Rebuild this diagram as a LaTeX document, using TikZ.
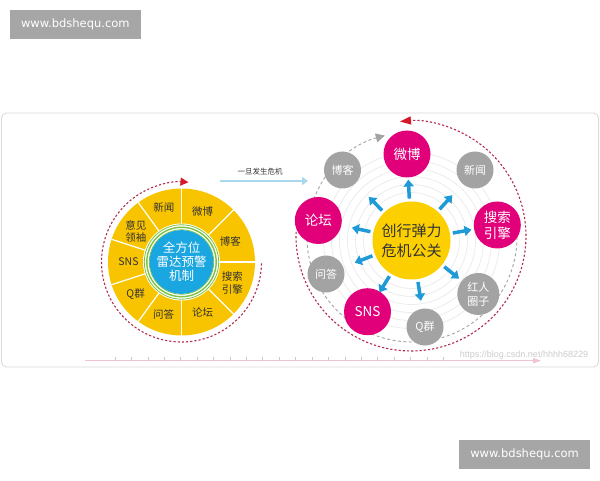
\documentclass[tikz,border=0pt]{standalone}
\usepackage{fontspec}
\setmainfont{Noto Sans CJK SC}
\newfontfamily\wmfont{DejaVu Sans}
\newfontfamily\lsfont{Liberation Sans}
\usetikzlibrary{arrows.meta,calc}
\definecolor{ylwL}{HTML}{F8C400}
\definecolor{ylwR}{HTML}{FCCF00}
\definecolor{grnC}{HTML}{7DC242}
\definecolor{bluC}{HTML}{1AA6E0}
\definecolor{magC}{HTML}{E2007A}
\definecolor{gryN}{HTML}{A3A3A3}
\definecolor{arrB}{HTML}{1E9BD7}
\definecolor{redD}{HTML}{B22D4E}
\definecolor{redT}{HTML}{D7182A}
\definecolor{txtC}{HTML}{333333}
\definecolor{ringC}{HTML}{EAEAEA}
\definecolor{frameC}{HTML}{DADADA}
\definecolor{wmC}{HTML}{A6A6A6}
\definecolor{pinkL}{HTML}{EFC3CF}
\definecolor{tickC}{HTML}{D3C7CC}
\definecolor{lblue}{HTML}{A8D8EC}
\begin{document}
\begin{tikzpicture}[x=1pt,y=1pt,
  wmbox/.style={fill=wmC, text=white, inner sep=0pt, font=\wmfont\fontsize{11.5}{12}\selectfont},
  llab/.style={text=txtC, align=center, inner sep=0pt, font=\fontsize{10.5}{12.5}\selectfont},
  mnode/.style={circle, fill=magC, minimum size=47pt, inner sep=0pt, text=white, align=center, font=\fontsize{13.5}{16}\selectfont},
  gnode/.style={circle, fill=gryN, minimum size=37pt, inner sep=0pt, text=white, align=center, font=\fontsize{11}{14}\selectfont},
  rdash/.style={draw=redD, line width=1.1pt, dash pattern=on 2.2pt off 2pt},
  gdash/.style={draw=gryN, line width=0.9pt, dash pattern=on 3pt off 2.5pt},
  barrow/.style={draw=arrB, line width=3.5pt, -{Triangle[length=7pt,width=10pt]}},
  ringline/.style={draw=ringC, line width=0.7pt}
]
\useasboundingbox (0,0) rectangle (600,480);
\fill[white] (0,0) rectangle (600,480);

% frame
\draw[frameC, line width=0.8pt, rounded corners=5pt] (1.5,113) rectangle (598.5,367);

% watermark boxes
\node[wmbox, minimum width=130.7pt, minimum height=29.3pt] (wm1) at (75.3,455.3) {www.bdshequ.com};
\node[wmbox, minimum width=130.7pt, minimum height=29.3pt] (wm2) at (524.6,25.3) {www.bdshequ.com};

% ---------------- left diagram ----------------
\coordinate (lc) at (181.5,218);
\fill[ylwL] (lc) circle (73.5);
\foreach \a in {90,126,162,198,234,270,45,0,-45}
  \draw[white, line width=1.2pt] ($(lc)+(\a:38)$) -- ($(lc)+(\a:73.5)$);
\fill[white] (lc) circle (38.5);
\draw[grnC, line width=0.8pt] (lc) circle (37.2);
\draw[grnC, line width=1.4pt] (lc) circle (34.7);
\draw[grnC, line width=0.8pt] (lc) circle (32.2);
\node[circle, fill=bluC, minimum size=60pt, inner sep=0pt, text=white, align=center,
      font=\fontsize{12.5}{14}\selectfont] (lcen) at (lc) {全方位\\雷达预警\\机制};

\node[llab] (lwb) at ($(lc)+(67.5:55)$) {微博};
\node[llab] (lbk) at ($(lc)+(22.5:53)$) {博客};
\node[llab] (lss) at ($(lc)+(-22.5:55)$) {搜索\\引擎};
\node[llab] (llt) at ($(lc)+(-67.5:55)$) {论坛};
\node[llab] (lxw) at ($(lc)+(108:57)$) {新闻};
\node[llab] (lyj) at ($(lc)+(146:55)$) {意见\\领袖};
\node[llab] (lsns) at ($(lc)+(180:53)$) {SNS};
\node[llab] (lqq) at ($(lc)+(215:56)$) {Q群};
\node[llab] (lwd) at ($(lc)+(251:55)$) {问答};

\draw[rdash, -{Triangle[length=8pt,width=8pt,color=redT]}]
  ($(lc)+(-1:80)$) arc[start angle=-1, end angle=-275, radius=80];

% crisis arrow
\node[text=txtC, inner sep=0pt, font=\fontsize{7.5}{9}\selectfont] (crisis) at (260,308.3) {一旦发生危机};
\coordinate (ca) at (220,299);
\coordinate (cb) at (308,299);
\draw[lblue, line width=2.5pt, -{Triangle[length=6pt,width=8pt]}] (ca) -- (cb);

% ---------------- right diagram ----------------
\coordinate (rc) at (411.5,239.5);
\foreach \r in {48,56,64,72,80,88}
  \draw[ringline] (rc) circle (\r);

\coordinate (rac) at (411,244);
\coordinate (gac) at (412,243);
\draw[rdash, -{Triangle[length=11pt,width=8pt,color=redT]}]
  ($(rac)+(178:115)$) arc[start angle=178, end angle=455.5, radius=115];
\draw[gdash, -{Triangle[length=9pt,width=9pt,color=gryN]}]
  ($(gac)+(0:105)$) arc[start angle=0, end angle=-255, radius=105];

\node[mnode] (wb) at (407,326) {微博};
\node[mnode] (lt) at (318.3,259.5) {论坛};
\node[mnode] (ss) at (497.3,255) {搜索\\引擎};
\node[mnode] (sns) at (367.5,168.3) {SNS};
\node[gnode] (bk) at (342.5,310) {博客};
\node[gnode] (xw) at (475,310) {新闻};
\node[gnode] (wd) at (326,206) {问答};
\node[gnode, minimum size=42pt] (hr) at (478.3,186) {红人\\圈子};
\node[gnode] (qq) at (425,153) {Q群};

\node[circle, fill=ylwR, minimum size=78pt, inner sep=0pt, text=txtC, align=center,
      font=\fontsize{15}{20}\selectfont] (rcen) at (rc) {创行弹力\\危机公关};

\foreach \n in {wb,lt,ss,sns,bk,xw,wd,hr,qq}
  \draw[barrow] ($(rc)!42pt!(\n)$) -- ($(rc)!61pt!(\n)$);

% ---------------- timeline ----------------
\coordinate (t0) at (85,119.3);
\coordinate (t1) at (541,119.3);
\draw[pinkL, line width=0.9pt, -{Triangle[length=8pt,width=5pt]}] (t0) -- (t1);
\foreach \i in {0,...,20}
  \draw[tickC, line width=0.6pt] (115+16.415*\i,119.3) -- ++(0,3.5);

\node[text=black!20, inner sep=0pt, font=\lsfont\fontsize{9}{10}\selectfont] (csdn) at (524,125) {https://blog.csdn.net/hhhh68229};
\end{tikzpicture}
\end{document}
